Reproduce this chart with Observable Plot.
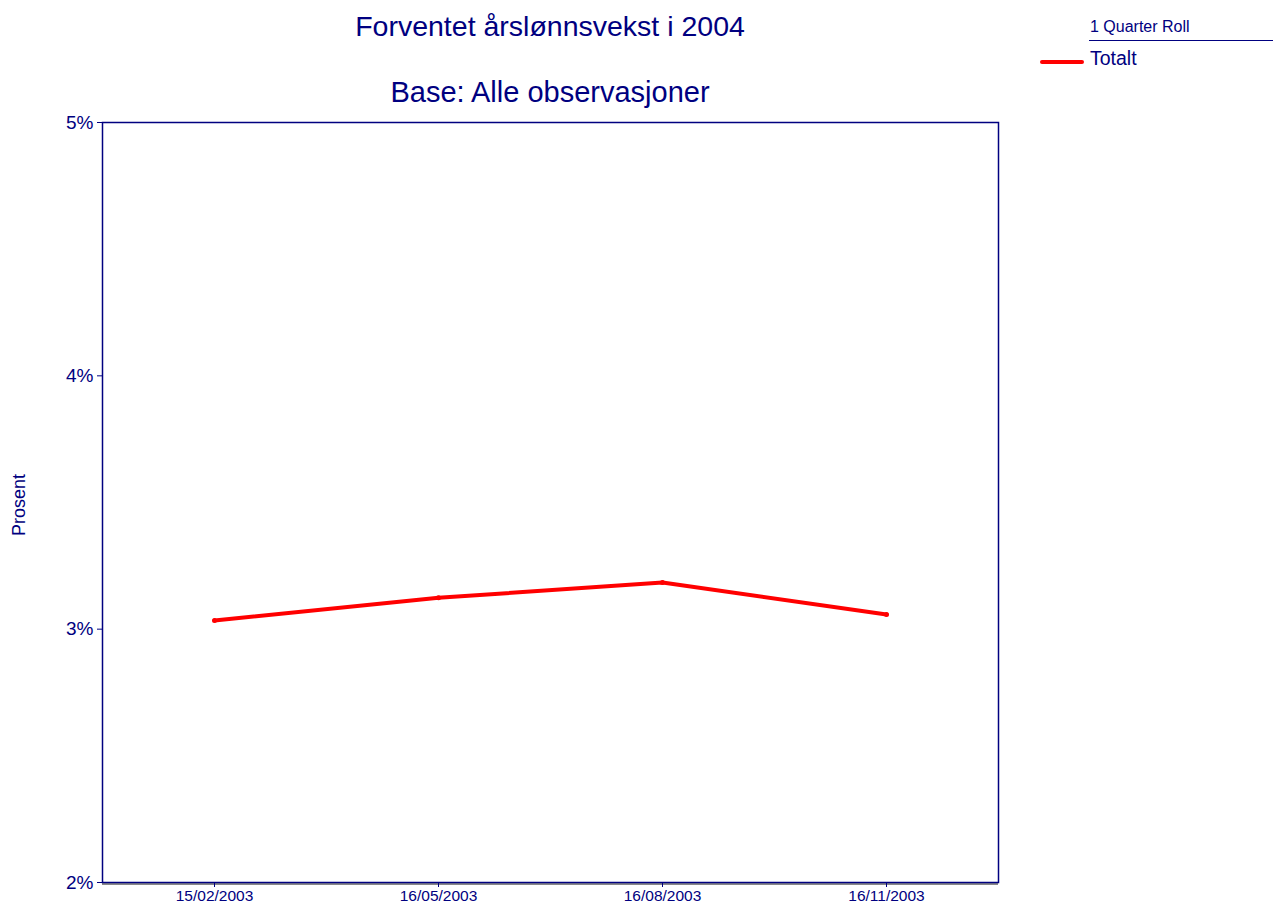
<!DOCTYPE html>
<html>
<head>
<meta charset="utf-8">
<script src="https://cdn.jsdelivr.net/npm/d3@7"></script>
<script src="https://cdn.jsdelivr.net/npm/@observablehq/plot@0.6"></script>
<style>
  html, body { margin: 0; padding: 0; background: #fff; }
  body { width: 1273px; height: 904px; position: relative; overflow: hidden; font-family: "Liberation Sans", Arial, sans-serif; color: #000080; }
  .abs { position: absolute; white-space: nowrap; line-height: 1; }
  #chart { position: absolute; left: 0; top: 0; }
</style>
</head>
<body>
<div id="chart"></div>
<div class="abs" id="t1" style="left:300px; width:500px; text-align:center; top:12px; font-size:28.5px;">Forventet årslønnsvekst i 2004</div>
<div class="abs" id="t2" style="left:300px; width:500px; text-align:center; top:78px; font-size:29px;">Base: Alle observasjoner</div>
<div class="abs" style="left:1090px; top:19px; font-size:16px;">1 Quarter Roll</div>
<div class="abs" style="left:1089px; top:40px; width:184px; height:0; border-top:1.5px solid #000080;"></div>
<div class="abs" style="left:1040px; top:60px; width:44px; height:0; border-top:4px solid #ff0000; border-radius:2px;"></div>
<div class="abs" style="left:1090px; top:49px; font-size:19.5px;">Totalt</div>
<div class="abs" style="left:19px; top:505px; font-size:18px; transform: translate(-50%,-50%) rotate(-90deg);">Prosent</div>
<script>
const dates = ["15/02/2003", "16/05/2003", "16/08/2003", "16/11/2003"];
const totalt = [3.034, 3.124, 3.184, 3.058];
const yTicks = [2, 3, 4, 5];
const seriesName = "Totalt";

const data = dates.map((d, i) => ({date: d, value: totalt[i], series: seriesName}));
const navy = "#000080";

const chart = Plot.plot({
  width: 1273,
  height: 904,
  marginLeft: 102,
  marginRight: 275,
  marginTop: 122,
  marginBottom: 22,
  style: {fontFamily: '"Liberation Sans", Arial, sans-serif', color: navy, background: "white", overflow: "visible"},
  x: {type: "point", domain: dates, padding: 0.5, label: null},
  y: {domain: [2, 5], label: null},
  marks: [
    Plot.ruleY([2], {stroke: "#888", strokeWidth: 2, dy: 1.5}),
    Plot.frame({stroke: navy, strokeWidth: 1.5}),
    Plot.axisY({ticks: yTicks, tickFormat: d => d + "%", tickSize: 5, tickPadding: 4, fontSize: 19, stroke: navy, fill: navy, label: null}),
    Plot.axisX({tickSize: 5, tickPadding: 2, fontSize: 15.5, stroke: navy, fill: navy, label: null}),
    Plot.line(data, {x: "date", y: "value", stroke: "#ff0000", strokeWidth: 4, strokeLinejoin: "round", strokeLinecap: "round"}),
    Plot.dot(data, {x: "date", y: "value", r: 2.5, fill: "#ff0000"})
  ]
});
document.getElementById("chart").appendChild(chart);
</script>
</body>
</html>
